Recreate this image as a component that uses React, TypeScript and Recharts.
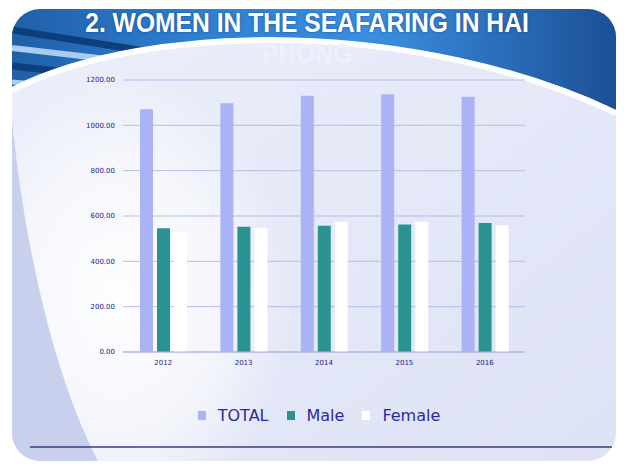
import React from 'react';
import { BarChart, Bar, XAxis, YAxis, CartesianGrid, Legend } from 'recharts';

const years = ['2012', '2013', '2014', '2015', '2016'];
const totalValues = [1071, 1097, 1131, 1137, 1126];
const maleValues = [546, 553, 557, 563, 569];
const femaleValues = [528, 546, 575, 575, 559];
const yTicks = [0, 200, 400, 600, 800, 1000, 1200];
const seriesOrder = ['TOTAL', 'Male', 'Female'];

const data = years.map((y, i) => ({
    year: y,
    TOTAL: totalValues[i],
    Male: maleValues[i],
    Female: femaleValues[i],
}));

const navy = '#1c1c8e';
const headerPath = 'M12,9 L616,9 L616,113 C420,20 150,20 12,90 Z';

const renderLegend = (props: any) => {
    const items = [...(props.payload || [])].sort(
        (a: any, b: any) => seriesOrder.indexOf(a.value) - seriesOrder.indexOf(b.value)
    );
    return (
        <div style={{ display: 'flex', justifyContent: 'center', alignItems: 'center', fontFamily: 'DejaVu Sans', fontSize: 16, color: '#2b2ba0', paddingLeft: 14 }}>
            {items.map((p: any) => (
                <span key={p.value} style={{ display: 'flex', alignItems: 'center', margin: '0 9px' }}>
                    <span style={{ width: 8, height: 9, background: p.color, marginRight: 12, display: 'inline-block' }} />
                    {p.value}
                </span>
            ))}
        </div>
    );
};

const Background: React.FC = () => (
    <svg width={624} height={465} style={{ position: 'absolute', left: 0, top: 0 }}>
        <defs>
            <linearGradient id="slideBg" x1="0" y1="0" x2="1" y2="1">
                <stop offset="0%" stopColor="#eceffa" />
                <stop offset="100%" stopColor="#dde2f5" />
            </linearGradient>
            <linearGradient id="headBg" x1="0" y1="0" x2="1" y2="0">
                <stop offset="0%" stopColor="#1f5fa8" />
                <stop offset="30%" stopColor="#2f7fd0" />
                <stop offset="60%" stopColor="#3a8fe0" />
                <stop offset="100%" stopColor="#1c4f96" />
            </linearGradient>
            <radialGradient id="glow" cx="0.5" cy="0.5" r="0.5">
                <stop offset="0%" stopColor="#ffffff" stopOpacity={0.95} />
                <stop offset="60%" stopColor="#ffffff" stopOpacity={0.6} />
                <stop offset="100%" stopColor="#ffffff" stopOpacity={0} />
            </radialGradient>
            <clipPath id="slideClip">
                <rect x={12} y={9} width={604} height={452} rx={28} />
            </clipPath>
            <clipPath id="headClip">
                <path d={headerPath} />
            </clipPath>
        </defs>
        <g clipPath="url(#slideClip)">
            <rect x={12} y={9} width={604} height={452} fill="url(#slideBg)" />
            <ellipse cx={120} cy={300} rx={170} ry={230} fill="url(#glow)" />
            <path d="M12,120 C25,250 55,380 100,465 L12,465 Z" fill="#c9d0ee" />
            <path d={headerPath} fill="url(#headBg)" />
            <g clipPath="url(#headClip)">
                <path d="M12,30 L170,55" stroke="#0f3f7a" strokeWidth={7} />
                <path d="M12,48 L150,64" stroke="#a9cdf0" strokeWidth={6} />
                <path d="M12,66 L120,78" stroke="#0f3f7a" strokeWidth={7} />
                <path d="M12,82 L80,88" stroke="#a9cdf0" strokeWidth={5} />
            </g>
            <path d="M12,90 C150,20 420,20 616,113" fill="none" stroke="#ffffff" strokeWidth={6} />
        </g>
        <line x1={30} y1={447} x2={612} y2={447} stroke="#3b3b7c" strokeWidth={1.5} />
    </svg>
);

export default function App() {
    return (
        <div style={{ position: 'absolute', left: 0, top: 0, width: 624, height: 465, background: '#ffffff', overflow: 'hidden' }}>
            <Background />
            <div style={{ position: 'absolute', left: 0, top: 7, width: 614, textAlign: 'center', fontFamily: 'Liberation Sans, Arial', fontWeight: 'bold', fontSize: 28, lineHeight: '31px', color: '#ffffff', transform: 'scaleX(0.88)', transformOrigin: '307px 0' }}>
                <div style={{ textShadow: '0 0 3px rgba(20,50,120,0.6)' }}>2. WOMEN IN THE SEAFARING IN HAI</div>
                <div style={{ color: '#eef1fa' }}>PHONG</div>
            </div>
            <div style={{ position: 'absolute', left: 0, top: 0 }}>
                <BarChart
                    width={624}
                    height={465}
                    data={data}
                    margin={{ top: 80, right: 99, left: 63, bottom: 74 }}
                    barGap={4}
                    barSize={13}
                >
                    <CartesianGrid vertical={false} stroke="#b7bce4" strokeWidth={1} />
                    <XAxis
                        dataKey="year"
                        tick={{ fontSize: 7, fill: navy, fontFamily: 'DejaVu Sans' }}
                        tickLine={false}
                        axisLine={{ stroke: '#b0b5dc' }}
                        height={20}
                    />
                    <YAxis
                        domain={[0, 1200]}
                        ticks={yTicks}
                        tickFormatter={(v: number) => v.toFixed(2)}
                        tick={{ fontSize: 7, fill: navy, fontFamily: 'DejaVu Sans' }}
                        tickLine={false}
                        axisLine={false}
                        width={60}
                    />
                    <Legend
                        content={renderLegend}
                        wrapperStyle={{ position: 'absolute', top: 406, left: 0, width: 624 }}
                    />
                    <Bar dataKey="TOTAL" fill="#a9b3f6" isAnimationActive={false} />
                    <Bar dataKey="Male" fill="#2a9391" isAnimationActive={false} />
                    <Bar dataKey="Female" fill="#ffffff" isAnimationActive={false} />
                </BarChart>
            </div>
        </div>
    );
}
